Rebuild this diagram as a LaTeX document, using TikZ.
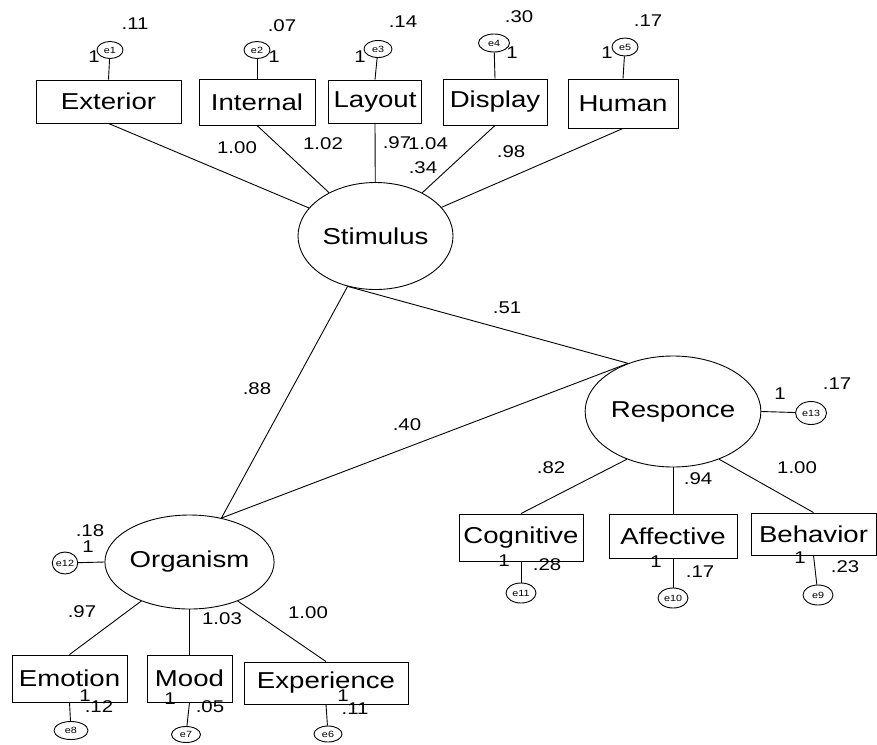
\documentclass[tikz,border=0pt]{standalone}
\usepackage{fontspec}
\setmainfont[FakeStretch=1.2]{Liberation Sans}
\usetikzlibrary{shapes.geometric}
\tikzstyle{indicator}=[rectangle,draw,inner sep=0pt,font=\fontsize{23}{26}\selectfont]
\tikzstyle{latent}=[ellipse,draw,inner sep=0pt,font=\fontsize{23}{26}\selectfont]
\tikzstyle{errvar}=[ellipse,draw,inner sep=0pt,font=\fontsize{9}{10}\selectfont]
\tikzstyle{link}=[draw,line width=0.9pt]
\tikzstyle{weight}=[inner sep=0pt,font=\fontsize{17}{19}\selectfont]

\begin{document}
\begin{tikzpicture}[x=1pt,y=-1pt,line width=0.9pt]
\useasboundingbox (0,0) rectangle (877,744);

    % observed indicators
    \foreach \pos/\name/\txt/\w/\h in {(108.5,101.5)/ext/Exterior/145/43, (257,102)/int/Internal/116/46,
        (375,101.5)/lay/Layout/93/43, (495,102)/disp/Display/104/46, (623,103.5)/hum/Human/110/49,
        (521,537.5)/cog/Cognitive/124/47, (673,536)/aff/Affective/128/44, (813.5,534)/beh/Behavior/125/42,
        (69.5,678.5)/emo/Emotion/115/47, (189.5,678.5)/mood/Mood/85/47, (326,683)/exper/Experience/164/42}
        \node[indicator,minimum width=\w,minimum height=\h] (\name) at \pos {\txt};

    % latent variables
    \foreach \pos/\name/\txt/\w/\h in {(375.5,236)/stim/Stimulus/155/107, (673,411.5)/resp/Responce/146/111,
        (189.5,562)/org/Organism/139/94}
        \node[latent,minimum width=\w,minimum height=\h] (\name) at \pos {\txt};

    % error terms
    \foreach \pos/\name/\w/\h in {(110,50)/e1/26/17, (257,50)/e2/26/17, (378,49)/e3/28/17, (494,43)/e4/31/18,
        (625,47)/e5/26/18, (811,413)/e13/31/23, (521,593)/e11/30/20, (673,598)/e10/30/20, (818,595)/e9/30/20,
        (65,563)/e12/24/22, (71,730.5)/e8/34/18, (186,734.5)/e7/29/16, (328,734)/e6/28/16}
        \node[errvar,minimum width=\w,minimum height=\h] (\name) at \pos {\name};

    % loadings and paths
    \foreach \source/\dest in {ext/stim, int/stim, lay/stim, disp/stim, hum/stim}
        \path[link] (\source.south) -- (\dest);
    \path[link] (stim.241) -- (resp.133);
    \path[link] (stim.241) -- (org.54);
    \path[link] (org.54) -- (resp.133);
    \path[link] (resp.226) -- (cog.north);
    \path[link] (resp.south) -- (aff.north);
    \path[link] (resp.314) -- (beh.north);
    \path[link] (org.219) -- (emo.north);
    \path[link] (org.south) -- (mood.north);
    \path[link] (org.321) -- (exper.north);

    % error links
    \foreach \source/\dest in {e1/ext, e2/int, e3/lay, e4/disp, e5/hum}
        \path[link] (\source) -- (\dest.north);
    \foreach \source/\dest in {cog/e11, aff/e10, beh/e9, emo/e8, mood/e7, exper/e6}
        \path[link] (\source.south) -- (\dest);
    \path[link] (e12) -- (org.west);
    \path[link] (resp.east) -- (e13);

    % estimates
    \foreach \pos/\name/\val in {(237,148)/w1/1.00, (323,144)/w2/1.02, (397,143)/w3/.97, (428,144)/w4/1.04,
        (423,168)/w5/.34, (511,152)/w6/.98, (507,308)/w7/.51, (257,389)/w8/.88, (407,425)/w9/.40,
        (551,468)/w10/.82, (698,479)/w11/.94, (797,468)/w12/1.00, (82,612)/w13/.97, (222,619)/w14/1.03,
        (308,613)/w15/1.00}
        \node[weight] (\name) at \pos {\val};

    \foreach \pos/\name/\val in {(135,24)/v1/.11, (282,26)/v2/.07, (403,22)/v3/.14, (519,17)/v4/.30,
        (648,21)/v5/.17, (837,384)/v13/.17, (547,565)/v11/.28, (700,572)/v10/.17, (845,567)/v9/.23,
        (90,531)/v12/.18, (99,707)/v8/.12, (210,707)/v7/.05, (355,709)/v6/.11}
        \node[weight] (\name) at \pos {\val};

    \foreach \pos/\name in {(94,57)/f1, (274,57)/f2, (360,57)/f3, (512,53)/f4, (607,53)/f5, (780,394)/f13,
        (504,561)/f11, (656,562)/f10, (800,558)/f9, (88,547)/f12, (85,696)/f8, (170,699)/f7, (343,696)/f6}
        \node[weight] (\name) at \pos {1};

\end{tikzpicture}
\end{document}
